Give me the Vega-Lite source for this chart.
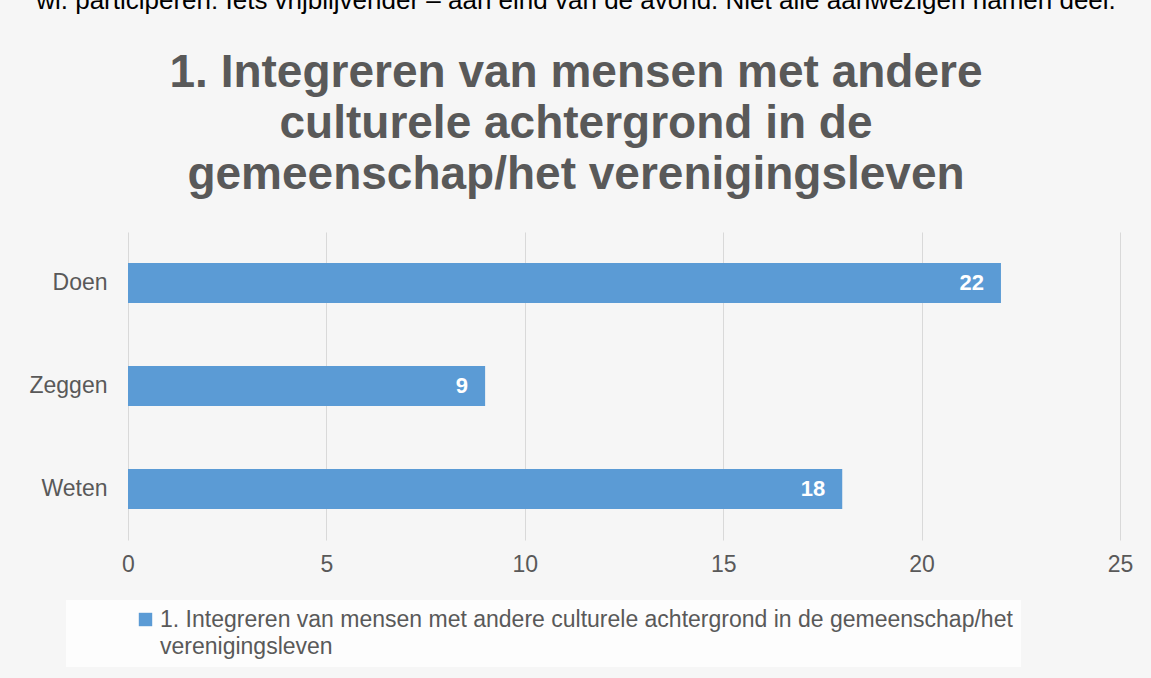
{
  "$schema": "https://vega.github.io/schema/vega-lite/v6.json",
  "autosize": "none",
  "width": 992,
  "height": 308,
  "padding": {"left": 128, "top": 232, "right": 31, "bottom": 138},
  "background": "#f6f6f6",
  "title": {
    "text": "wi. participeren: Iets vrijblijvender – aan eind van de avond. Niet alle aanwezigen namen deel.",
    "subtitle": ["1. Integreren van mensen met andere", "culturele achtergrond in de", "gemeenschap/het verenigingsleven"],
    "anchor": "middle",
    "dx": -48,
    "offset": 34,
    "font": "Liberation Sans",
    "fontSize": 26,
    "fontWeight": "normal",
    "color": "#000000",
    "subtitleFont": "Liberation Sans",
    "subtitleFontSize": 46,
    "subtitleFontWeight": "bold",
    "subtitleColor": "#595959",
    "subtitleLineHeight": 51,
    "subtitlePadding": 37
  },
  "data": {
    "values": [
      {"categorie": "Doen", "aantal": 22, "reeks": "1. Integreren van mensen met andere culturele achtergrond in de gemeenschap/het verenigingsleven"},
      {"categorie": "Zeggen", "aantal": 9, "reeks": "1. Integreren van mensen met andere culturele achtergrond in de gemeenschap/het verenigingsleven"},
      {"categorie": "Weten", "aantal": 18, "reeks": "1. Integreren van mensen met andere culturele achtergrond in de gemeenschap/het verenigingsleven"}
    ]
  },
  "encoding": {
    "y": {
      "field": "categorie",
      "type": "nominal",
      "sort": ["Doen", "Zeggen", "Weten"],
      "scale": {"paddingInner": 0.612, "paddingOuter": 0.301},
      "axis": {
        "title": null,
        "domain": false,
        "ticks": false,
        "grid": false,
        "labelFont": "Liberation Sans",
        "labelFontSize": 23,
        "labelColor": "#595959",
        "labelPadding": 21
      }
    },
    "x": {
      "field": "aantal",
      "type": "quantitative",
      "scale": {"domain": [0, 25], "nice": false},
      "axis": {
        "title": null,
        "values": [0, 5, 10, 15, 20, 25],
        "domain": false,
        "ticks": false,
        "grid": true,
        "gridColor": "#d9d9d9",
        "gridWidth": 1,
        "labelFlush": false,
        "labelFont": "Liberation Sans",
        "labelFontSize": 23,
        "labelColor": "#595959",
        "labelPadding": 13
      }
    }
  },
  "layer": [
    {
      "mark": {"type": "bar"},
      "encoding": {
        "color": {
          "field": "reeks",
          "type": "nominal",
          "scale": {"range": ["#5B9BD5"]},
          "legend": {
            "orient": "none",
            "legendX": -62,
            "legendY": 368,
            "title": null,
            "symbolType": "square",
            "symbolSize": 180,
            "symbolOffset": 60,
            "symbolStrokeWidth": 0,
            "labelFont": "Liberation Sans",
            "labelFontSize": 23,
            "labelColor": "#595959",
            "labelLimit": 2000,
            "labelOffset": 3,
            "labelExpr": "['1. Integreren van mensen met andere culturele achtergrond in de gemeenschap/het', 'verenigingsleven']",
            "fillColor": "#fdfdfd",
            "padding": 8,
            "encode": {"labels": {"update": {"lineHeight": {"value": 27}}}}
          }
        }
      }
    },
    {
      "mark": {"type": "text", "align": "right", "dx": -17, "color": "#ffffff", "font": "Liberation Sans", "fontSize": 22, "fontWeight": "bold"},
      "encoding": {"text": {"field": "aantal", "type": "quantitative"}}
    }
  ],
  "config": {"view": {"stroke": null}}
}
